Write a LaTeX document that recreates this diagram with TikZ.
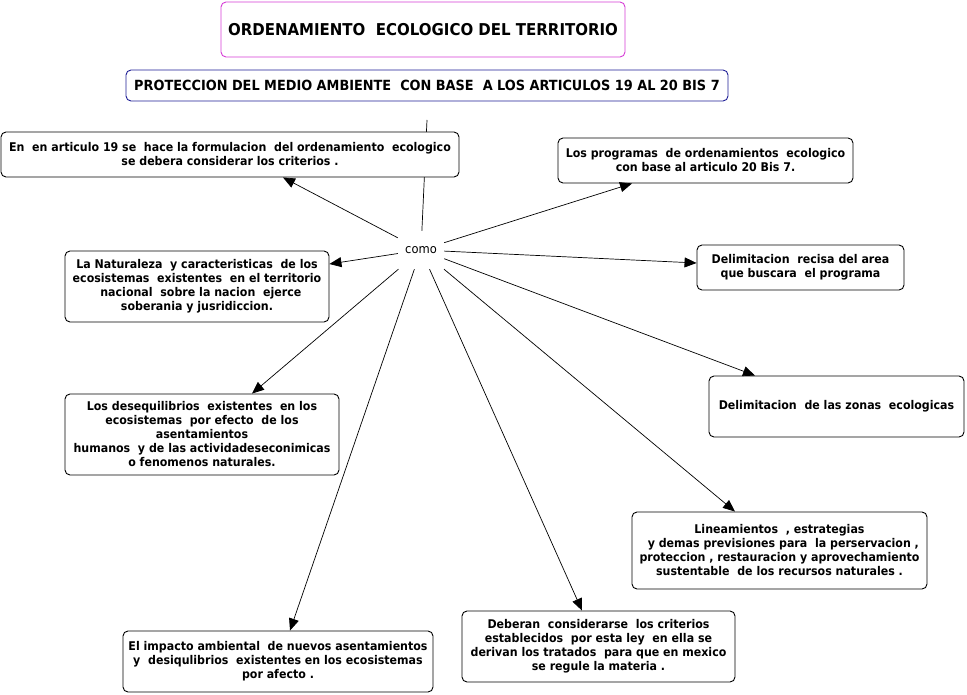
\documentclass[tikz,border=0pt]{standalone}
\usepackage{fontspec}
\setmainfont[FakeStretch=0.92]{DejaVu Sans}
\usepackage{xcolor}
\usepackage{tikz}
\usetikzlibrary{arrows.meta, calc}

\definecolor{titmag}{RGB}{214,60,214}
\definecolor{subblue}{RGB}{30,30,150}

\begin{document}
\begin{tikzpicture}[x=1pt, y=-1pt,
  box/.style  = {draw, fill=white, rounded corners=5pt, line width=0.9pt,
                 align=center, inner sep=2pt,
                 font=\fontsize{12}{14}\selectfont\bfseries},
  link/.style = {line width=0.7pt},
  arr/.style  = {-{Triangle[length=12pt,width=10pt]}, line width=0.7pt},
]
\useasboundingbox (0,0) rectangle (967,695);

% ── Titles ────────────────────────────────────────────────────────────────────
\node[box, draw=titmag, minimum width=404, minimum height=55,
      font=\fontsize{16.3}{19}\selectfont\bfseries] (tit) at (423,29.5)
      {ORDENAMIENTO\ \ ECOLOGICO DEL TERRITORIO};
\node[box, draw=subblue, minimum width=602, minimum height=31,
      font=\fontsize{14}{16}\selectfont\bfseries] (prot) at (427,85.5)
      {PROTECCION DEL MEDIO AMBIENTE\ \ CON BASE\ \ A LOS ARTICULOS 19 AL 20 BIS 7};

% ── Linking phrase ────────────────────────────────────────────────────────────
\node[minimum width=46, minimum height=38, font=\fontsize{12.5}{14}\selectfont]
      (como) at (421,250) {como};
\coordinate (top) at (427,120);
\draw[link] (top) -- (como);

% ── Concepts ──────────────────────────────────────────────────────────────────
\node[box, minimum width=458, minimum height=45] (art19) at (230,154.5)
      {En\ \ en articulo 19 se\ \ hace la formulacion\ \ del ordenamiento\ \ ecologico\\
       se debera considerar los criterios .};
\node[box, minimum width=295, minimum height=45] (prog) at (705.5,160.5)
      {Los programas\ \ de ordenamientos\ \ ecologico\\
       con base al articulo 20 Bis 7.};
\node[box, minimum width=264, minimum height=71] (nat) at (197,286.5)
      {La Naturaleza\ \ y caracteristicas\ \ de los\\
       ecosistemas\ \ existentes\ \ en el territorio\\
       \ \ nacional\ \ sobre la nacion\ \ ejerce\\
       soberania y jusridiccion.};
\node[box, minimum width=207, minimum height=45] (delim) at (800.5,267.5)
      {Delimitacion\ \ recisa del area\\
       que buscara\ \ el programa};
\node[box, minimum width=255, minimum height=61] (zonas) at (836.5,406.5)
      {Delimitacion\ \ de las zonas\ \ ecologicas};
\node[box, minimum width=274, minimum height=81] (deseq) at (202,434.5)
      {Los desequilibrios\ \ existentes\ \ en los\\
       ecosistemas\ \ por efecto\ \ de los\\
       asentamientos\\
       humanos\ \ y de las actividadeseconimicas\\
       o fenomenos naturales.};
\node[box, minimum width=295, minimum height=77] (linea) at (779.5,550.5)
      {Lineamientos\ \ , estrategias\\
       \ \ y demas previsiones para\ \ la perservacion ,\\
       proteccion , restauracion y aprovechamiento\\
       sustentable\ \ de los recursos naturales .};
\node[box, minimum width=273, minimum height=71] (deber) at (598.5,646.5)
      {Deberan\ \ considerarse\ \ los criterios\\
       establecidos\ \ por esta ley\ \ en ella se\\
       derivan los tratados\ \ para que en mexico\\
       se regule la materia .};
\node[box, minimum width=310, minimum height=61] (impac) at (278,661.5)
      {El impacto ambiental\ \ de nuevos asentamientos\\
       y\ \ desiqulibrios\ \ existentes en los ecosistemas\\
       por afecto .};

% ── Connectors ────────────────────────────────────────────────────────────────
\draw[arr] (como) -- ([xshift=53pt]art19.south);
\draw[arr] (como) -- ([xshift=-73.5pt]prog.south);
\draw[arr] (como) -- ([yshift=22.5pt]nat.east);
\draw[arr] (como) -- ([yshift=4.5pt]delim.west);
\draw[arr] (como) -- ([xshift=-81.5pt]zonas.north);
\draw[arr] (como) -- ([xshift=50pt]deseq.north);
\draw[arr] (como) -- ([xshift=-44.5pt]linea.north);
\draw[arr] (como) -- ([xshift=-16.5pt]deber.north);
\draw[arr] (como) -- ([xshift=12pt]impac.north);

\end{tikzpicture}
\end{document}
